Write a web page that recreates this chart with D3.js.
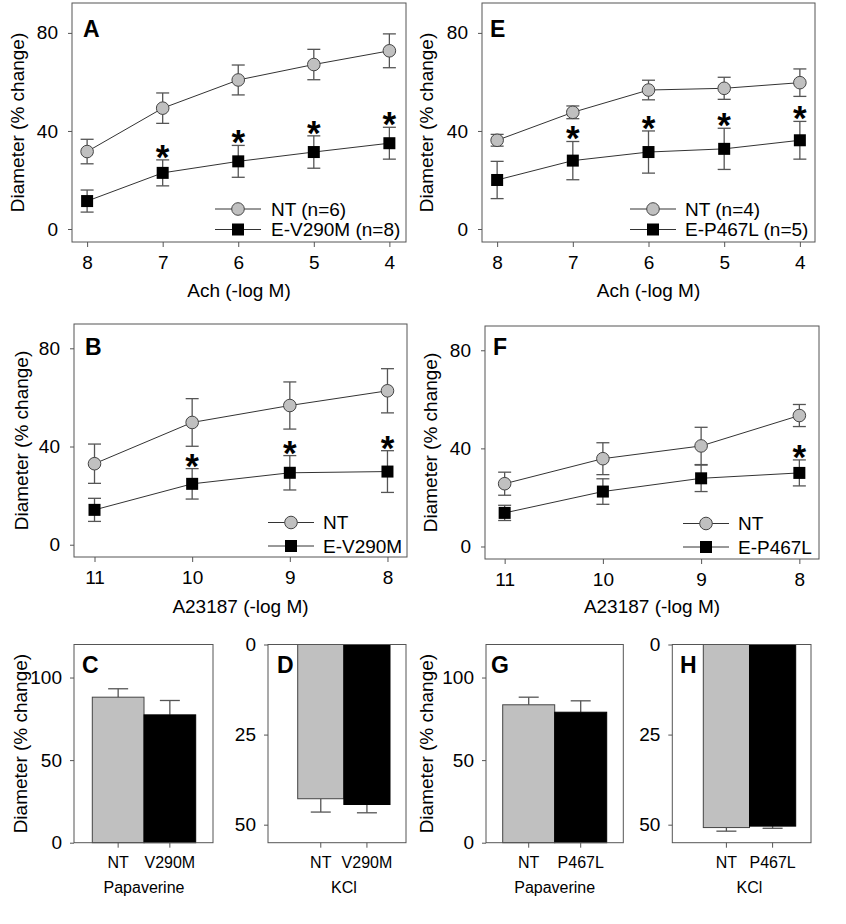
<!DOCTYPE html>
<html>
<head>
<meta charset="utf-8">
<script src="https://cdn.jsdelivr.net/npm/d3@7"></script>
<style>
body { margin: 0; background: #fff; }
svg { display: block; font-family: Arial, "Liberation Sans", sans-serif; }
</style>
</head>
<body>
<svg width="846" height="924"></svg>
<script>
// ---- data ----
var achDoses = [8, 7, 6, 5, 4];
var a23Doses = [11, 10, 9, 8];
var lineTicks = [0, 40, 80];

// A: Ach, NT vs E-V290M
var ntA = [31.6, 49.3, 60.8, 67.1, 72.7];
var ntAerr = [5.0, 6.2, 6.1, 6.2, 6.9];
var mutA = [11.4, 22.9, 27.6, 31.4, 35.0];
var mutAerr = [4.5, 5.3, 6.5, 6.6, 6.5];
var starA = [0, 1, 1, 1, 1];

// E: Ach, NT vs E-P467L
var ntE = [36.2, 47.6, 56.7, 57.4, 59.7];
var ntEerr = [2.4, 2.6, 4.0, 4.5, 5.6];
var mutE = [20.0, 27.9, 31.4, 32.7, 36.2];
var mutEerr = [7.6, 7.8, 8.6, 8.4, 7.7];
var starE = [0, 1, 1, 1, 1];

// B: A23187, NT vs E-V290M
var ntB = [33.0, 49.8, 56.7, 62.7];
var ntBerr = [8.0, 9.7, 9.6, 9.0];
var mutB = [14.2, 24.8, 29.3, 29.8];
var mutBerr = [4.7, 6.2, 7.0, 8.5];
var starB = [0, 1, 1, 1];

// F: A23187, NT vs E-P467L
var ntF = [25.6, 35.8, 41.0, 53.4];
var ntFerr = [4.7, 6.5, 7.6, 4.5];
var mutF = [13.7, 22.4, 27.8, 30.0];
var mutFerr = [3.1, 5.2, 5.4, 5.3];
var starF = [0, 0, 0, 1];

// bar panels
var catsV = ["NT", "V290M"];
var catsP = ["NT", "P467L"];
var papTicks = [0, 50, 100];
var kclTicks = [0, 25, 50];
var papV = [88.1, 77.4], papVerr = [5.1, 8.7];
var kclV = [42.8, 44.4], kclVerr = [3.7, 2.3];
var papP = [83.5, 79.0], papPerr = [4.6, 6.9];
var kclP = [50.8, 50.4], kclPerr = [1.0, 0.6];

var svg = d3.select("svg");
var frameCol = "#555", errCol = "#555", gray = "#c0c0c0";

function styleAxis(ax, size) {
  ax.select(".domain").remove();
  ax.selectAll(".tick line").attr("stroke", frameCol);
  ax.selectAll("text").attr("font-size", size).attr("fill", "#000").attr("font-family", "Arial, 'Liberation Sans', sans-serif");
}

function panelLabel(txt, x, y) {
  svg.append("text").attr("x", x).attr("y", y).attr("font-size", 23).attr("font-weight", "bold").text(txt);
}

function yLabel(x, cy) {
  svg.append("text").attr("transform", "translate(" + x + "," + cy + ") rotate(-90)")
    .attr("text-anchor", "middle").attr("font-size", 19).text("Diameter (% change)");
}

function linePanel(p) {
  var x = d3.scaleLinear().domain(p.xDomain).range([p.left, p.right]);
  var y = d3.scaleLinear().domain(p.yDomain).range([p.bottom, p.top]);
  var g = svg.append("g");

  g.append("g").attr("transform", "translate(0," + p.bottom + ")")
    .call(d3.axisBottom(x).tickValues(p.doses).tickFormat(d3.format("d")).tickSize(5).tickPadding(9))
    .call(styleAxis, 19);
  g.append("g").attr("transform", "translate(" + p.left + ",0)")
    .call(d3.axisLeft(y).tickValues(lineTicks).tickSize(4).tickPadding(10))
    .call(styleAxis, 19);

  g.append("rect").attr("x", p.left).attr("y", p.top)
    .attr("width", p.right - p.left).attr("height", p.bottom - p.top)
    .attr("fill", "none").attr("stroke", frameCol).attr("stroke-width", 1);

  var line = d3.line().x(function(d) { return x(d[0]); }).y(function(d) { return y(d[1]); });
  var series = [
    { v: p.nt, e: p.ntErr, shape: "circle" },
    { v: p.mut, e: p.mutErr, shape: "square" }
  ];
  series.forEach(function(s) {
    var pts = p.doses.map(function(d, i) { return [d, s.v[i], s.e[i]]; });
    g.append("path").attr("d", line(pts)).attr("fill", "none").attr("stroke", "#333").attr("stroke-width", 1);
    var eb = g.selectAll(null).data(pts).enter().append("g").attr("stroke", errCol).attr("stroke-width", 1.3);
    eb.append("line").attr("x1", function(d) { return x(d[0]); }).attr("x2", function(d) { return x(d[0]); })
      .attr("y1", function(d) { return y(d[1] - d[2]); }).attr("y2", function(d) { return y(d[1] + d[2]); });
    [-1, 1].forEach(function(sg) {
      eb.append("line").attr("x1", function(d) { return x(d[0]) - 6.5; }).attr("x2", function(d) { return x(d[0]) + 6.5; })
        .attr("y1", function(d) { return y(d[1] + sg * d[2]); }).attr("y2", function(d) { return y(d[1] + sg * d[2]); });
    });
    if (s.shape === "circle") {
      g.selectAll(null).data(pts).enter().append("circle")
        .attr("cx", function(d) { return x(d[0]); }).attr("cy", function(d) { return y(d[1]); })
        .attr("r", 6.3).attr("fill", gray).attr("stroke", "#444").attr("stroke-width", 1);
    } else {
      g.selectAll(null).data(pts).enter().append("rect")
        .attr("x", function(d) { return x(d[0]) - 6; }).attr("y", function(d) { return y(d[1]) - 6; })
        .attr("width", 12).attr("height", 12).attr("fill", "#000");
    }
  });

  // significance asterisks above the mutant error bars
  g.selectAll(null).data(p.doses.filter(function(d, i) { return p.stars[i]; })).enter().append("text")
    .attr("x", function(d) { return x(d); })
    .attr("y", function(d) { var i = p.doses.indexOf(d); return y(p.mut[i] + p.mutErr[i]) + 9; })
    .attr("text-anchor", "middle").attr("font-size", 35).attr("font-weight", "bold").text("*");

  // legend
  var lg = g.append("g");
  [0, 1].forEach(function(k) {
    var ly = p.legY[k];
    lg.append("line").attr("x1", p.legX - 23).attr("x2", p.legX + 23).attr("y1", ly).attr("y2", ly)
      .attr("stroke", "#333").attr("stroke-width", 1);
    if (k === 0) {
      lg.append("circle").attr("cx", p.legX).attr("cy", ly).attr("r", 6.3).attr("fill", gray).attr("stroke", "#444");
    } else {
      lg.append("rect").attr("x", p.legX - 6).attr("y", ly - 6).attr("width", 12).attr("height", 12).attr("fill", "#000");
    }
    lg.append("text").attr("x", p.legText).attr("y", ly).attr("dy", "0.36em").attr("font-size", 19).text(p.legend[k]);
  });

  svg.append("text").attr("x", (p.left + p.right) / 2).attr("y", p.titleY)
    .attr("text-anchor", "middle").attr("font-size", 19).text(p.title);
  yLabel(p.yLabX, (p.top + p.bottom) / 2);
  panelLabel(p.label, p.labX, p.labY);
}

function barPanel(p) {
  var x = d3.scaleBand().domain(p.cats).range(p.barRange).padding(0);
  var y = d3.scaleLinear().domain(p.yDomain).range(p.inverted ? [p.top, p.bottom] : [p.bottom, p.top]);
  var g = svg.append("g");
  var pts = p.cats.map(function(c, i) { return { c: c, v: p.vals[i], e: p.errs[i], i: i }; });

  g.selectAll(null).data(pts).enter().append("line")
    .attr("x1", function(d) { return x(d.c) + x.bandwidth() / 2; })
    .attr("x2", function(d) { return x(d.c) + x.bandwidth() / 2; })
    .attr("y1", function(d) { return y(d.v); }).attr("y2", function(d) { return y(d.v + d.e); })
    .attr("stroke", errCol).attr("stroke-width", 1.3);
  g.selectAll(null).data(pts).enter().append("line")
    .attr("x1", function(d) { return x(d.c) + x.bandwidth() / 2 - 10; })
    .attr("x2", function(d) { return x(d.c) + x.bandwidth() / 2 + 10; })
    .attr("y1", function(d) { return y(d.v + d.e); }).attr("y2", function(d) { return y(d.v + d.e); })
    .attr("stroke", errCol).attr("stroke-width", 1.3);

  g.selectAll(null).data(pts).enter().append("rect")
    .attr("x", function(d) { return x(d.c); }).attr("width", x.bandwidth())
    .attr("y", function(d) { return Math.min(y(0), y(d.v)); })
    .attr("height", function(d) { return Math.abs(y(d.v) - y(0)); })
    .attr("fill", function(d) { return d.i === 0 ? gray : "#000"; })
    .attr("stroke", function(d) { return d.i === 0 ? "#444" : "#000"; }).attr("stroke-width", 1);

  g.append("g").attr("transform", "translate(0," + p.bottom + ")")
    .call(d3.axisBottom(x).tickSize(5).tickPadding(9))
    .call(styleAxis, 16);
  g.append("g").attr("transform", "translate(" + p.left + ",0)")
    .call(d3.axisLeft(y).tickValues(p.ticks).tickSize(4).tickPadding(8))
    .call(styleAxis, 19);

  g.append("rect").attr("x", p.left).attr("y", p.top)
    .attr("width", p.right - p.left).attr("height", p.bottom - p.top)
    .attr("fill", "none").attr("stroke", frameCol).attr("stroke-width", 1);

  svg.append("text").attr("x", (p.barRange[0] + p.barRange[1]) / 2).attr("y", 893)
    .attr("text-anchor", "middle").attr("font-size", 16).text(p.title);
  if (p.yLabX) yLabel(p.yLabX, (p.top + p.bottom) / 2);
  panelLabel(p.label, p.labX, p.labY);
}

linePanel({ label: "A", labX: 83, labY: 37, left: 72, right: 406, top: 3, bottom: 242,
  xDomain: [8.2, 3.78], yDomain: [-5.3, 92.2], doses: achDoses,
  nt: ntA, ntErr: ntAerr, mut: mutA, mutErr: mutAerr, stars: starA,
  legend: ["NT (n=6)", "E-V290M (n=8)"], legX: 238, legText: 271, legY: [209, 229.5],
  title: "Ach (-log M)", titleY: 297, yLabX: 24 });

linePanel({ label: "E", labX: 490, labY: 37, left: 482, right: 815, top: 3, bottom: 242,
  xDomain: [8.2, 3.8], yDomain: [-5.3, 92.2], doses: achDoses,
  nt: ntE, ntErr: ntEerr, mut: mutE, mutErr: mutEerr, stars: starE,
  legend: ["NT (n=4)", "E-P467L (n=5)"], legX: 653, legText: 685, legY: [209, 229.5],
  title: "Ach (-log M)", titleY: 297, yLabX: 433 });

linePanel({ label: "B", labX: 85, labY: 355, left: 74, right: 407, top: 324, bottom: 557,
  xDomain: [11.21, 7.8], yDomain: [-5, 89.9], doses: a23Doses,
  nt: ntB, ntErr: ntBerr, mut: mutB, mutErr: mutBerr, stars: starB,
  legend: ["NT", "E-V290M"], legX: 291, legText: 323, legY: [522.5, 546],
  title: "A23187 (-log M)", titleY: 613, yLabX: 28 });

linePanel({ label: "F", labX: 493, labY: 355, left: 485, right: 819, top: 326, bottom: 559,
  xDomain: [11.2, 7.8], yDomain: [-5.1, 89.9], doses: a23Doses,
  nt: ntF, ntErr: ntFerr, mut: mutF, mutErr: mutFerr, stars: starF,
  legend: ["NT", "E-P467L"], legX: 706, legText: 738, legY: [523.5, 547],
  title: "A23187 (-log M)", titleY: 613, yLabX: 437 });

barPanel({ label: "C", labX: 82, labY: 673, left: 74, right: 213, top: 644.5, bottom: 842.7,
  barRange: [92.3, 195.7], yDomain: [0, 120], ticks: papTicks, cats: catsV,
  vals: papV, errs: papVerr, title: "Papaverine", yLabX: 27 });

barPanel({ label: "D", labX: 277, labY: 673, left: 268, right: 406, top: 644.5, bottom: 842.7,
  barRange: [297.7, 390], yDomain: [0, 55], inverted: true, ticks: kclTicks, cats: catsV,
  vals: kclV, errs: kclVerr, title: "KCl" });

barPanel({ label: "G", labX: 491, labY: 673, left: 486, right: 623.3, top: 644.5, bottom: 842.7,
  barRange: [502.7, 606.7], yDomain: [0, 120], ticks: papTicks, cats: catsP,
  vals: papP, errs: papPerr, title: "Papaverine", yLabX: 433 });

barPanel({ label: "H", labX: 680, labY: 673, left: 672.3, right: 811, top: 644.5, bottom: 842.7,
  barRange: [703.3, 795.7], yDomain: [0, 55], inverted: true, ticks: kclTicks, cats: catsP,
  vals: kclP, errs: kclPerr, title: "KCl" });
</script>
</body>
</html>
